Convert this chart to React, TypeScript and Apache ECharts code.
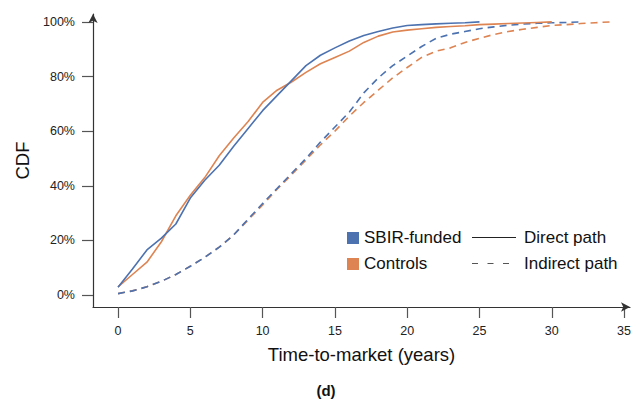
import React, { useEffect, useRef } from "react";
import * as echarts from "echarts";

const xTicks = [0, 5, 10, 15, 20, 25, 30, 35];
const yTicks = [0, 20, 40, 60, 80, 100];

// CDF values (%) at year 0, 1, 2, ...
const sbirDirect = [2.8, 9.5, 16.5, 20.8, 26, 35.5, 42, 47.5, 54.5, 61, 67.5, 73, 78.5, 84, 87.8, 90.5, 93, 95, 96.5, 97.8, 98.7, 99, 99.3, 99.5, 99.7, 100];
const controlsDirect = [3, 7.5, 12, 19.5, 29, 36.5, 43, 51, 57.5, 63.5, 70.5, 75, 78, 81.5, 84.7, 87, 89.3, 92.5, 94.8, 96.3, 97, 97.5, 98, 98.3, 98.6, 99, 99.2, 99.4, 99.6, 99.8, 100];
const sbirIndirect = [0.5, 1.5, 3, 5, 7.5, 10.5, 13.8, 17.5, 22, 27.8, 33.5, 39, 44.5, 50, 56, 61.5, 67, 74, 79.5, 84, 87.5, 91, 94, 95.5, 96.5, 97.5, 98.2, 98.8, 99.2, 99.5, 99.7, 99.8, 100];
const controlsIndirect = [0.5, 1.5, 3, 5, 7.5, 10.5, 13.8, 17.5, 22, 27.5, 33, 38.7, 44, 49.5, 55, 60, 65.5, 70.5, 75, 79.5, 83.3, 87, 89.3, 90.5, 92.5, 94, 95.4, 96.5, 97.3, 98, 98.7, 99, 99.4, 99.7, 100];

const groupNames = ["SBIR-funded", "Controls"];
const pathNames = ["Direct path", "Indirect path"];
const BLUE = "#4C72B0";
const ORANGE = "#DD8452";
const FONT = "Liberation Sans, Arial, Helvetica, sans-serif";

const toPairs = (vals: number[]) => vals.map((v, i) => [i, v]);

export default function App() {
  const ref = useRef<HTMLDivElement>(null);
  useEffect(() => {
    document.body.style.margin = "0";
    if (!ref.current) return;
    const chart = echarts.init(ref.current, null, { renderer: "svg" });
    const mk = (name: string, vals: number[], color: string, dashed: boolean) => ({
      type: "line",
      name,
      data: toPairs(vals),
      showSymbol: false,
      symbol: "none",
      lineStyle: { color, width: 1.6, type: dashed ? [7, 5] : "solid" },
      silent: true,
    });
    chart.setOption({
      animation: false,
      backgroundColor: "#fff",
      textStyle: { fontFamily: FONT },
      grid: { left: 93, right: 9, top: 14, bottom: 97, containLabel: false, outerBoundsMode: "none" },
      xAxis: {
        type: "value",
        min: -1.73,
        max: 35.41,
        name: "Time-to-market (years)",
        nameLocation: "middle",
        nameGap: 38,
        nameTextStyle: { fontSize: 18.5, color: "#111", fontFamily: FONT },
        splitLine: { show: false },
        axisLine: {
          show: true,
          onZero: false,
          symbol: ["none", "arrow"],
          symbolSize: [7, 9],
          lineStyle: { color: "#333", width: 1.2 },
        },
        axisTick: { show: true, length: 11, customValues: xTicks, lineStyle: { color: "#555", width: 1.2 } },
        axisLabel: { customValues: xTicks, margin: 17, fontSize: 12.5, color: "#222", fontFamily: FONT },
      },
      yAxis: {
        type: "value",
        min: -4.4,
        max: 102.9,
        name: "CDF",
        nameLocation: "middle",
        nameGap: 61,
        nameTextStyle: { fontSize: 18.5, color: "#111", fontFamily: FONT },
        splitLine: { show: false },
        axisLine: {
          show: true,
          onZero: false,
          symbol: ["none", "arrow"],
          symbolSize: [7, 9],
          lineStyle: { color: "#333", width: 1.2 },
        },
        axisTick: { show: true, length: 11, customValues: yTicks, lineStyle: { color: "#555", width: 1.2 } },
        axisLabel: {
          customValues: yTicks,
          margin: 18,
          fontSize: 12.5,
          color: "#222",
          fontFamily: FONT,
          formatter: (v: number) => `${Math.round(v)}%`,
        },
      },
      series: [
        mk("Controls indirect", controlsIndirect, ORANGE, true),
        mk("SBIR indirect", sbirIndirect, BLUE, true),
        mk("Controls direct", controlsDirect, ORANGE, false),
        mk("SBIR direct", sbirDirect, BLUE, false),
      ],
      graphic: [
        { type: "rect", shape: { x: 347, y: 232, width: 12, height: 12 }, style: { fill: BLUE } },
        { type: "rect", shape: { x: 347, y: 258, width: 12, height: 12 }, style: { fill: ORANGE } },
        { type: "text", x: 364, y: 237.5, style: { text: groupNames[0], fontSize: 17, fontFamily: FONT, fill: "#111", verticalAlign: "middle" } },
        { type: "text", x: 364, y: 263.5, style: { text: groupNames[1], fontSize: 17, fontFamily: FONT, fill: "#111", verticalAlign: "middle" } },
        { type: "line", shape: { x1: 472, y1: 237.5, x2: 516, y2: 237.5 }, style: { stroke: "#222", lineWidth: 1.2 } },
        { type: "line", shape: { x1: 472, y1: 263.5, x2: 516, y2: 263.5 }, style: { stroke: "#555", lineWidth: 1.2, lineDash: [6, 9.5] } },
        { type: "text", x: 524, y: 237.5, style: { text: pathNames[0], fontSize: 17, fontFamily: FONT, fill: "#111", verticalAlign: "middle" } },
        { type: "text", x: 524, y: 263.5, style: { text: pathNames[1], fontSize: 17, fontFamily: FONT, fill: "#111", verticalAlign: "middle" } },
        { type: "text", x: 326, y: 390, style: { text: "(d)", fontSize: 15, fontWeight: "bold", fontFamily: FONT, fill: "#111", align: "center", verticalAlign: "middle" } },
      ],
    });
    return () => chart.dispose();
  }, []);
  return <div ref={ref} style={{ width: 639, height: 404, position: "absolute", left: 0, top: 0 }} />;
}
